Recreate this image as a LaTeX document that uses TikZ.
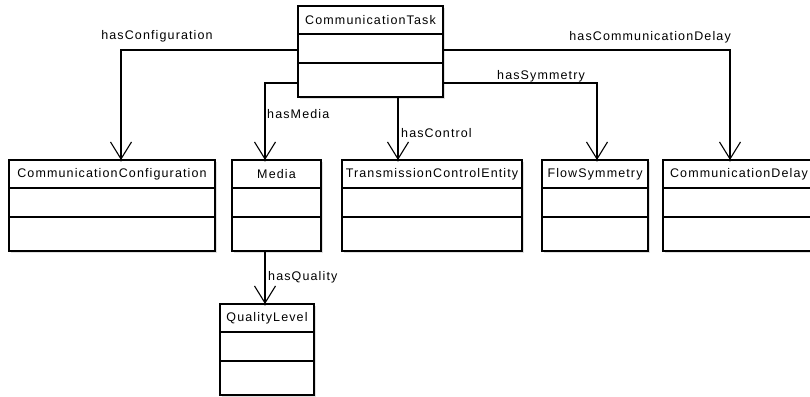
\documentclass[tikz,border=0pt]{standalone}
\usepackage{fontspec}
\newfontfamily\umlfont{Liberation Sans}[LetterSpace=9]
\usetikzlibrary{arrows.meta,calc}
\tikzset{
  classbox/.style={draw=black, fill=white, line width=1.4pt, inner sep=0pt, outer sep=0pt, minimum height=91pt, anchor=north west},
  classline/.style={line width=1.4pt},
  classshadow/.style={fill=black!12},
  classtitle/.style={font=\umlfont\fontsize{12.5}{14}\selectfont, inner sep=0pt},
  rolelabel/.style={font=\umlfont\fontsize{12.5}{14}\selectfont, inner sep=0pt},
  assoc/.style={line width=1.2pt, -{Straight Barb[length=17pt,width=21pt,line width=1.1pt]}},
  tipdot/.style={fill=black}
}
\newcommand\umlclass[5]{%
  \fill[classshadow] (#2+2,#3+2) rectangle (#2+#4+2,#3+93);
  \node[classbox, minimum width=#4pt] (#1) at (#2,#3) {};
  \node[classtitle] (#1-t) at ($(#1.north)+(0,14)$) {#5};
  \draw[classline] ($(#1.north west)+(0,28)$) -- ($(#1.north east)+(0,28)$);
  \draw[classline] ($(#1.north west)+(0,57)$) -- ($(#1.north east)+(0,57)$);
}
\begin{document}
\begin{tikzpicture}[x=1pt,y=-1pt]
\useasboundingbox (0,0) rectangle (810,396);
\umlclass{ct}{298}{6}{145}{CommunicationTask}
\umlclass{cc}{9}{160}{206}{CommunicationConfiguration}
\umlclass{media}{232}{160}{89}{Media}
\umlclass{tce}{342}{160}{180}{TransmissionControlEntity}
\umlclass{fs}{542}{160}{106}{FlowSymmetry}
\umlclass{cd}{663}{160}{152}{CommunicationDelay}
\umlclass{ql}{220}{304}{94}{QualityLevel}

\coordinate (ccin) at (121,0 |- cc.north);
\coordinate (mein) at (265,0 |- media.north);
\coordinate (tcein) at (398,0 |- tce.north);
\coordinate (fsin) at (597,0 |- fs.north);
\coordinate (cdin) at (730,0 |- cd.north);
\coordinate (qlin) at (265,0 |- ql.north);

\draw[assoc] (ct.west |- 0,50) -| (ccin);
\draw[assoc] (ct.west |- 0,83) -| (mein);
\draw[assoc] (tcein |- ct.south) -- (tcein);
\draw[assoc] (ct.east |- 0,83) -| (fsin);
\draw[assoc] (ct.east |- 0,50) -| (cdin);
\draw[assoc] (qlin |- media.south) -- (qlin);
\foreach \p in {ccin,mein,tcein,fsin,cdin,qlin} \fill[tipdot] (\p) circle (1.7pt);

\node[rolelabel] (l1) at (157,36) {hasConfiguration};
\node[rolelabel, anchor=west] (l2) at (267,114) {hasMedia};
\node[rolelabel, anchor=west] (l3) at (401,133) {hasControl};
\node[rolelabel, anchor=west] (l4) at (497,76) {hasSymmetry};
\node[rolelabel, anchor=east] (l5) at (731,37) {hasCommunicationDelay};
\node[rolelabel, anchor=west] (l6) at (268,277) {hasQuality};
\end{tikzpicture}
\end{document}
